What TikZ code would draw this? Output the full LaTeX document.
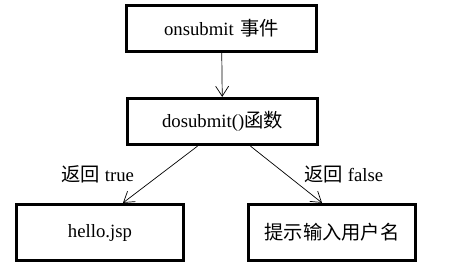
\documentclass[tikz,border=0pt]{standalone}
\usepackage{fontspec}
\setmainfont{Liberation Serif}
\newfontfamily\cjk[Scale=1.03]{Noto Sans CJK SC}
\usetikzlibrary{arrows.meta,positioning}

\begin{document}
\begin{tikzpicture}[x=0.03cm, y=-0.03cm, every node/.style={font=\fontsize{16}{19}\selectfont},
	box/.style={draw, rectangle, line width=2.8pt, inner sep=0pt},
	wide/.style={box, minimum width=5.7cm, minimum height=1.38cm},
	leaf/.style={box, minimum width=5.01cm, minimum height=1.68cm},
	link/.style={line width=0.6pt, -{Straight Barb[length=0.3cm, width=0.39cm]}}]
				\useasboundingbox (0,0) rectangle (450,267);
				\node[wide] (onsub) at (221.5,28.5) {onsubmit\hspace{0.35em}{\cjk 事件}};
				\node[wide] (dosub) at (222.5,121.5) {dosubmit(){\cjk 函数}};
				\node[leaf] (hello) at (100,232.5) {hello.jsp};
				\node[leaf] (prompt) at (332,232.5) {\cjk 提示输入用户名};
				\draw[link] (onsub) -- (dosub);
				\draw[link] ([xshift=-0.75cm]dosub.south) -- node[anchor=east, xshift=-0.66cm] {{\cjk 返回} true} ([xshift=0.69cm]hello.north);
				\draw[link] ([xshift=0.84cm]dosub.south) -- node[anchor=west, xshift=0.42cm] {{\cjk 返回} false} ([xshift=-0.3cm]prompt.north);
			\end{tikzpicture}
\end{document}
